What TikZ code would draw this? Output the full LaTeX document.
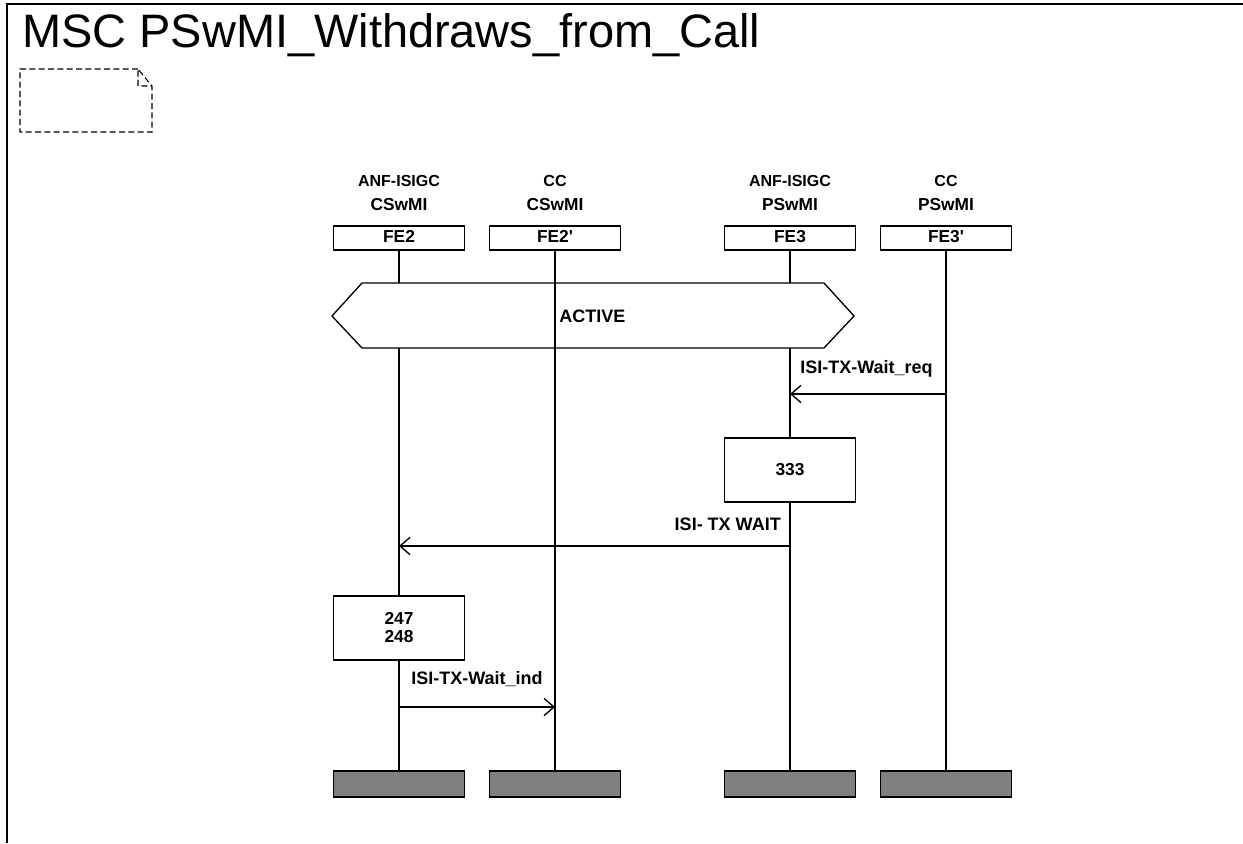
\documentclass[tikz,border=0pt]{standalone}
\usepackage{fontspec}
\setmainfont{Liberation Sans}
\usetikzlibrary{positioning,arrows.meta}
\tikzset{
  inst/.style={draw, line width=1pt, fill=white, minimum width=98pt, minimum height=18pt, inner sep=0pt, text height=1.5ex, text depth=0.1ex, font=\fontsize{13}{14}\selectfont\bfseries},
  instend/.style={draw, line width=1pt, fill=black!50, minimum width=98pt, minimum height=19.5pt, inner sep=0pt},
  headtext/.style={inner sep=0pt, font=\fontsize{12}{13}\selectfont\bfseries},
  headname/.style={inner sep=0pt, font=\fontsize{13}{14}\selectfont\bfseries},
  actionbox/.style={draw, line width=1pt, fill=white, minimum width=98pt, minimum height=48pt, inner sep=0pt, align=center, font=\fontsize{13}{13.5}\selectfont\bfseries},
  lifeline/.style={line width=1.2pt},
  msg/.style={line width=1pt, -{Straight Barb[length=7.5pt,width=13pt,line width=1pt]}},
  msglabel/.style={inner sep=0pt, font=\fontsize{13.5}{15}\selectfont\bfseries}
}
\begin{document}
\begin{tikzpicture}[x=0.75pt, y=-0.75pt]
    \useasboundingbox (0,0) rectangle (1243,843);
    \draw[line width=1.5pt] (7,843) -- (7,4) -- (1243,4);

    \node[anchor=base west, inner sep=0pt, font=\fontsize{35.2}{40}\selectfont] (title) at (22,47) {MSC PSwMI\_Withdraws\_from\_Call};
    \draw[dashed, dash pattern=on 4.5pt off 2.5pt, line width=0.8pt]
      (138,69) -- (20,69) -- (20,132) -- (152,132) -- (152,86) -- (138,69) -- (138,86) -- (152,86);

    % instance heads
    \node[headtext] (h2a) at (399,181) {ANF-ISIGC};
    \node[headname] (h2b) at (399,205) {CSwMI};
    \node[inst] (fe2) at (399,238) {FE2};
    \node[headtext] (h2pa) at (555,181) {CC};
    \node[headname] (h2pb) at (555,205) {CSwMI};
    \node[inst] (fe2p) at (555,238) {FE2\textquotesingle};
    \node[headtext] (h3a) at (790,181) {ANF-ISIGC};
    \node[headname] (h3b) at (790,205) {PSwMI};
    \node[inst] (fe3) at (790,238) {FE3};
    \node[headtext] (h3pa) at (946,181) {CC};
    \node[headname] (h3pb) at (946,205) {PSwMI};
    \node[inst] (fe3p) at (946,238) {FE3\textquotesingle};

    % instance ends
    \node[instend] (fe2end) at (399,784) {};
    \node[instend] (fe2pend) at (555,784) {};
    \node[instend] (fe3end) at (790,784) {};
    \node[instend] (fe3pend) at (946,784) {};

    \draw[lifeline] (fe2) -- (fe2end);
    \draw[lifeline] (fe3) -- (fe3end);

    % condition
    \draw[line width=1pt, fill=white] (332,316) -- (362,283) -- (824,283) -- (854,316) -- (824,348) -- (362,348) -- cycle;

    \node[actionbox] (a333) at (790,470) {333};
    \node[actionbox] (a247) at (399,628) {247\\248};

    \draw[lifeline] (fe2p) -- (fe2pend);
    \draw[lifeline] (fe3p) -- (fe3pend);
    \node[msglabel, anchor=west] (active) at (559,316) {ACTIVE};

    % messages
    \draw[msg] (fe3p |- 0,394) -- (fe3 |- 0,394);
    \node[msglabel, anchor=west] (waitreq) at (800,369) {ISI-TX-Wait\_req};
    \draw[msg] (fe3 |- 0,546) -- (fe2 |- 0,546);
    \node[msglabel, anchor=east] (txwait) at (781,524) {ISI- TX WAIT};
    \draw[msg] (fe2 |- 0,707) -- (fe2p |- 0,707);
    \node[msglabel, anchor=west] (waitind) at (411,679) {ISI-TX-Wait\_ind};
\end{tikzpicture}
\end{document}
